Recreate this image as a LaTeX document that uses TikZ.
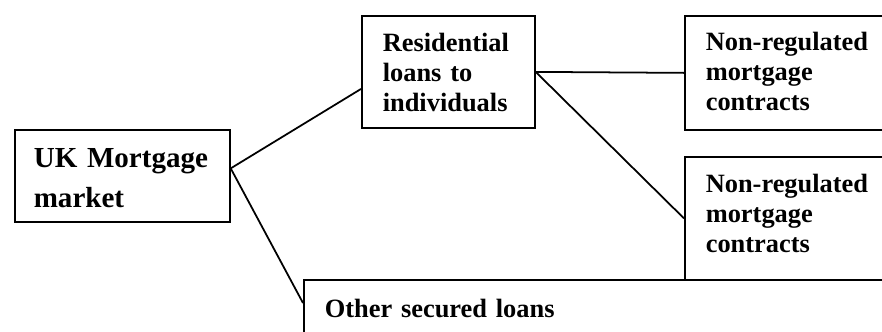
\documentclass[tikz,border=0pt]{standalone}
\usepackage{fontspec}
\setmainfont{Liberation Serif}
\usetikzlibrary{calc}

\begin{document}
\begin{tikzpicture}[x=0.4545pt,y=-0.4545pt,line width=0.8pt]
\tikzstyle{box}=[draw,anchor=north west,align=left,inner ysep=0pt,inner xsep=9.5pt,
  font=\bfseries\fontsize{12}{13.6}\selectfont]
\useasboundingbox (0,0) rectangle (882,331);
\clip (0,0) rectangle (882,331);
\node[box,inner xsep=8.6pt,text width=80.5pt,text height=17.3pt,text depth=24.5pt,
  font=\bfseries\fontsize{13.2}{18.2}\selectfont] (uk) at (14,129) {UK Mortgage\\market};
\node[box,text width=59.6pt,text height=16.4pt,text depth=34.5pt] (res) at (361,15)
  {Residential\\loans to\\individuals};
\node[box,text width=95pt,text height=15.9pt,text depth=35.9pt] (nra) at (684,15)
  {Non-regulated\\mortgage\\contracts};
\node[box,text width=95pt,text height=16.4pt,text depth=39.5pt] (nrb) at (684,156)
  {Non-regulated\\mortgage\\contracts};
\node[box,text width=260pt,text height=17.3pt,text depth=19pt] (oth) at (303,279)
  {Other secured loans};
% connectors
\coordinate (ukout) at ($(uk.north east)!0.42!(uk.south east)$);
\draw (ukout) -- ($(res.north west)!0.65!(res.south west)$);
\draw (ukout) -- ($(oth.north west)!10.9pt!(oth.south west)$);
\draw (res.east) -- (nra.west);
\draw (res.east) -- (nrb.west);
\end{tikzpicture}
\end{document}
